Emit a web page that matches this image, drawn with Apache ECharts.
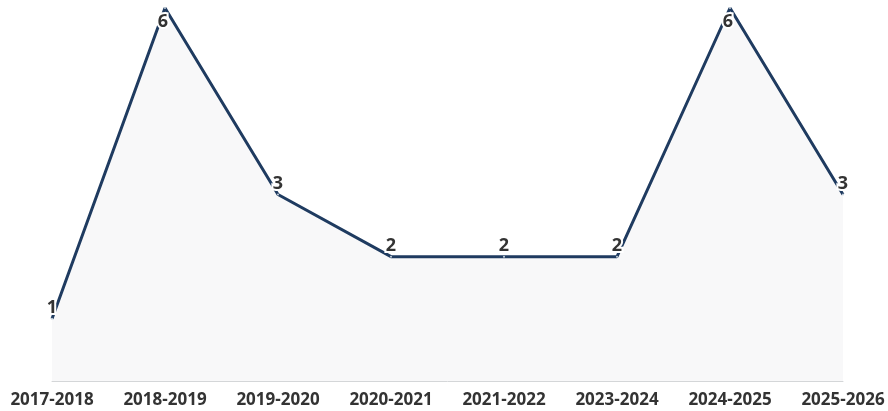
<!DOCTYPE html>
<html><head><meta charset="utf-8">
<script src="https://cdn.jsdelivr.net/npm/echarts@6/dist/echarts.min.js"></script>
<style>html,body{margin:0;padding:0;background:#fff}#c{width:888px;height:411px}</style>
</head><body><div id="c"></div>
<script>
const categories = ['2017-2018','2018-2019','2019-2020','2020-2021','2021-2022','2023-2024','2024-2025','2025-2026'];
const values = [1, 6, 3, 2, 2, 2, 6, 3];

const maxV = Math.max(...values);
const seriesData = values.map(v => v === maxV
  ? { value: v, label: { position: 'inside', offset: [-2, 14] } }
  : v);

const chart = echarts.init(document.getElementById('c'));
chart.setOption({
  animation: false,
  backgroundColor: '#fff',
  grid: { left: 52, right: 45, top: 8, bottom: 30, containLabel: false },
  xAxis: {
    type: 'category', data: categories, boundaryGap: false,
    axisLine: { show: true, lineStyle: { color: '#d4d6d8', width: 1 } },
    axisTick: { show: false },
    axisLabel: { color: '#333', fontFamily: 'Open Sans', fontWeight: 'bold', fontSize: 17, margin: 11, interval: 0 }
  },
  yAxis: { type: 'value', min: 0, max: 6, show: false, splitLine: { show: false } },
  series: [{
    type: 'line', data: seriesData, showSymbol: true, symbol: 'circle', symbolSize: 2,
    itemStyle: { color: '#c8d3dc' },
    lineStyle: { color: '#1f3b60', width: 3 },
    areaStyle: { color: 'rgba(225,228,232,0.35)' },
    label: {
      show: true, position: 'top', distance: 1,
      color: '#333', fontFamily: 'Open Sans', fontWeight: 'bold', fontSize: 18,
      textBorderColor: '#fff', textBorderWidth: 4
    }
  }]
});
</script></body></html>
